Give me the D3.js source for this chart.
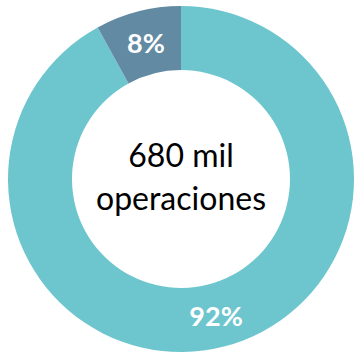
<!DOCTYPE html>
<html>
<head>
<meta charset="utf-8">
<script src="https://cdn.jsdelivr.net/npm/d3@7"></script>
<style>
  html, body { margin: 0; padding: 0; background: #ffffff; }
  svg { display: block; }
</style>
</head>
<body>
<svg id="chart" width="357" height="354"></svg>
<script>
// Share of operations
const categories = ["Resto", "Segmento"];
const shares = [92, 8];
const labels = ["92%", "8%"];
const centerLines = ["680 mil", "operaciones"];
const colors = ["#6DC6CE", "#628BA3"];

const svg = d3.select("#chart");
const cx = 181, cy = 179;
const outerR = 173, innerR = 109;

const g = svg.append("g").attr("transform", `translate(${cx},${cy})`);

const pie = d3.pie().sort(null).value(d => d.value);
const data = pie(categories.map((c, i) => ({ name: c, value: shares[i], label: labels[i], color: colors[i] })));

const arc = d3.arc().innerRadius(innerR).outerRadius(outerR);

g.selectAll("path.slice")
  .data(data)
  .join("path")
  .attr("class", "slice")
  .attr("d", arc)
  .attr("fill", d => d.data.color);

g.selectAll("text.pct")
  .data(data)
  .join("text")
  .attr("class", "pct")
  .attr("x", d => arc.centroid(d)[0])
  .attr("y", d => arc.centroid(d)[1])
  .attr("text-anchor", "middle")
  .attr("dominant-baseline", "central")
  .attr("font-family", "Lato, 'Open Sans', sans-serif")
  .attr("font-weight", "bold")
  .attr("font-size", 27)
  .attr("fill", "#ffffff")
  .text(d => d.data.label);

g.selectAll("text.center")
  .data(centerLines)
  .join("text")
  .attr("class", "center")
  .attr("x", 0)
  .attr("y", (d, i) => i === 0 ? -12 : 31)
  .attr("text-anchor", "middle")
  .attr("font-family", "Lato, 'Open Sans', sans-serif")
  .attr("font-size", 32)
  .attr("fill", "#000000")
  .text(d => d);
</script>
</body>
</html>
